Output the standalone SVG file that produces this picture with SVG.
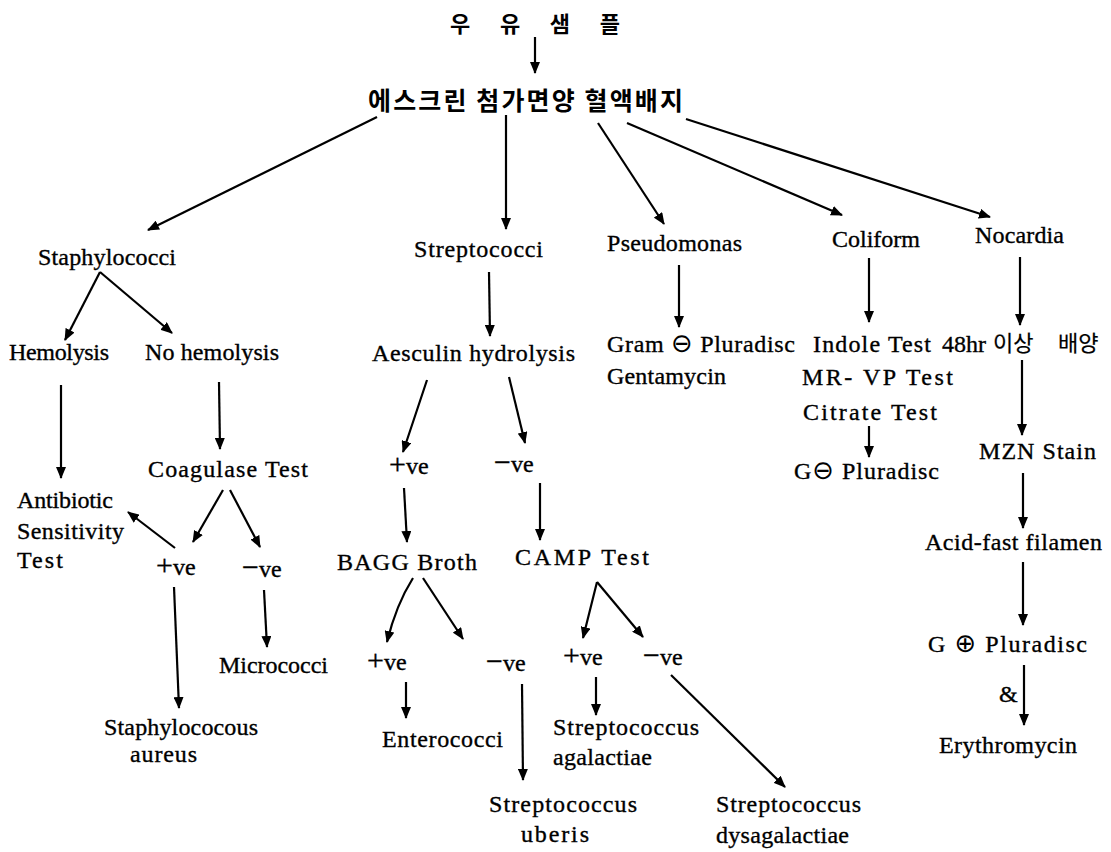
<svg xmlns="http://www.w3.org/2000/svg" width="1111" height="852" viewBox="0 0 1111 852">
<style>
text{font-family:"Liberation Serif","Noto Sans CJK KR",serif;font-size:24px;fill:#000;stroke:#000;stroke-width:0.35}
.kr{font-family:"Noto Sans CJK KR",sans-serif;font-weight:bold;stroke-width:0}
.kn{font-family:"Noto Sans CJK KR",sans-serif;font-size:22px;stroke-width:0.2}
.sym{font-family:"DejaVu Sans",sans-serif;font-size:26px;stroke-width:0}
.sg{font-size:30px}
.c line,.c path{stroke:#000;stroke-width:2.2;fill:none;marker-end:url(#ah)}
</style>
<defs>
<marker id="ah" markerUnits="userSpaceOnUse" markerWidth="12" markerHeight="10" refX="11" refY="5" orient="auto">
<path d="M0,0 L12,5 L0,10 z" fill="#000"/>
</marker>
</defs>
<rect width="1111" height="852" fill="#fff"/>
<g class="c" id="connectors">
<line x1="535" y1="37" x2="535" y2="73"/>
<line x1="377" y1="117" x2="148" y2="230"/>
<line x1="506" y1="115" x2="506" y2="229"/>
<line x1="598" y1="123" x2="664" y2="224"/>
<line x1="627" y1="123" x2="842" y2="215"/>
<line x1="686" y1="119" x2="990" y2="217"/>
<line x1="100" y1="272" x2="65" y2="340"/>
<line x1="100" y1="272" x2="172" y2="333"/>
<line x1="489" y1="272" x2="490" y2="336"/>
<line x1="679" y1="265" x2="679" y2="327"/>
<line x1="869" y1="258" x2="869" y2="322"/>
<line x1="1020" y1="257" x2="1020" y2="325"/>
<line x1="61" y1="385" x2="61" y2="478"/>
<line x1="219" y1="382" x2="220" y2="449"/>
<line x1="427" y1="380" x2="403" y2="452"/>
<line x1="509" y1="377" x2="525" y2="443"/>
<line x1="404" y1="488" x2="407" y2="542"/>
<line x1="540" y1="483" x2="540" y2="540"/>
<line x1="869" y1="426" x2="869" y2="457"/>
<line x1="1022" y1="360" x2="1022" y2="435"/>
<line x1="223" y1="490" x2="193" y2="542"/>
<line x1="230" y1="490" x2="260" y2="547"/>
<line x1="175" y1="548" x2="128" y2="512"/>
<line x1="174" y1="587" x2="179" y2="708"/>
<line x1="264" y1="590" x2="267" y2="647"/>
<path d="M413,578 Q396,605 387,642"/>
<line x1="423" y1="578" x2="463" y2="639"/>
<line x1="597" y1="582" x2="583" y2="638"/>
<line x1="597" y1="582" x2="643" y2="637"/>
<line x1="1023" y1="473" x2="1023" y2="528"/>
<line x1="1023" y1="562" x2="1023" y2="625"/>
<line x1="406" y1="682" x2="406" y2="718"/>
<line x1="522" y1="684" x2="523" y2="780"/>
<line x1="596" y1="677" x2="596" y2="715"/>
<line x1="671" y1="675" x2="785" y2="787"/>
<line x1="1024" y1="665" x2="1024" y2="725"/>
</g>
<g id="milk"><text class="kr" x="450" y="32" textLength="170" style="font-size:22px">우 유 샘 플</text></g>
<g id="agar"><text class="kr" x="368" y="110" textLength="315" style="font-size:25px">에스크린 첨가면양 혈액배지</text></g>
<g id="staph"><text x="38" y="265" textLength="138">Staphylococci</text></g>
<g id="strep"><text x="414" y="257" textLength="129">Streptococci</text></g>
<g id="pseudo"><text x="607" y="251" textLength="135">Pseudomonas</text></g>
<g id="coliform"><text x="832" y="247" textLength="88">Coliform</text></g>
<g id="nocardia"><text x="975" y="243" textLength="89">Nocardia</text></g>
<g id="hemolysis"><text x="9" y="360" textLength="100">Hemolysis</text></g>
<g id="nohemolysis"><text x="145" y="360" textLength="134">No hemolysis</text></g>
<g id="aesculin"><text x="372" y="361" textLength="203">Aesculin hydrolysis</text></g>
<g id="gram"><text x="607" y="352" textLength="188">Gram <tspan class="sym">⊖</tspan> Pluradisc</text><text x="607" y="384" textLength="119">Gentamycin</text></g>
<g id="coli-tests"><text x="813" y="352" textLength="118">Indole Test</text><text x="802" y="385" textLength="151">MR- VP Test</text><text x="803" y="420" textLength="134">Citrate Test</text></g>
<g id="culture48"><text x="942" y="352">48hr</text><text class="kn" x="993" y="351">이상</text><text class="kn" x="1058" y="351">배양</text></g>
<g id="gneg"><text x="794" y="479" textLength="145">G<tspan class="sym">⊖</tspan> Pluradisc</text></g>
<g id="mzn"><text x="979" y="459" textLength="117">MZN Stain</text></g>
<g id="coagulase"><text x="148" y="477" textLength="160">Coagulase Test</text></g>
<g id="aes-pos"><text x="389" y="474"><tspan class="sg">+</tspan>ve</text></g>
<g id="aes-neg"><text x="494" y="472"><tspan class="sg">−</tspan>ve</text></g>
<g id="antibiotic"><text x="17" y="508" textLength="96">Antibiotic</text><text x="17" y="539" textLength="107">Sensitivity</text><text x="17" y="568" textLength="46">Test</text></g>
<g id="coag-pos"><text x="156" y="575"><tspan class="sg">+</tspan>ve</text></g>
<g id="coag-neg"><text x="242" y="577"><tspan class="sg">−</tspan>ve</text></g>
<g id="bagg"><text x="337" y="570" textLength="140">BAGG Broth</text></g>
<g id="camp"><text x="515" y="565" textLength="134">CAMP Test</text></g>
<g id="acidfast"><text x="925" y="550" textLength="177">Acid-fast filamen</text></g>
<g id="micrococci"><text x="219" y="673" textLength="109">Micrococci</text></g>
<g id="bagg-pos"><text x="367" y="670"><tspan class="sg">+</tspan>ve</text></g>
<g id="bagg-neg"><text x="486" y="671"><tspan class="sg">−</tspan>ve</text></g>
<g id="camp-pos"><text x="563" y="665"><tspan class="sg">+</tspan>ve</text></g>
<g id="camp-neg"><text x="643" y="665"><tspan class="sg">−</tspan>ve</text></g>
<g id="gpos"><text x="928" y="652" textLength="159">G <tspan class="sym">⊕</tspan> Pluradisc</text><text x="999" y="702">&amp;</text></g>
<g id="saureus"><text x="104" y="735" textLength="154">Staphylococous</text><text x="130" y="762" textLength="67">aureus</text></g>
<g id="enterococci"><text x="382" y="747" textLength="121">Enterococci</text></g>
<g id="sagalactiae"><text x="553" y="735" textLength="146">Streptococcus</text><text x="553" y="765" textLength="99">agalactiae</text></g>
<g id="erythromycin"><text x="939" y="753" textLength="138">Erythromycin</text></g>
<g id="suberis"><text x="489" y="812" textLength="148">Streptococcus</text><text x="521" y="842" textLength="68">uberis</text></g>
<g id="sdysagalactiae"><text x="716" y="812" textLength="145">Streptococcus</text><text x="716" y="843" textLength="133">dysagalactiae</text></g>
</svg>
